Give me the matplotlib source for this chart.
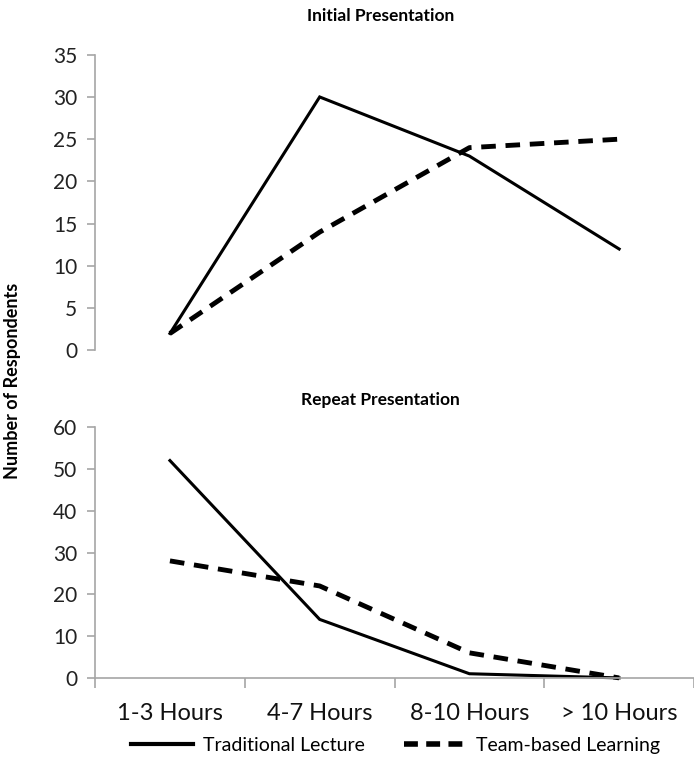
import matplotlib.pyplot as plt
from matplotlib.lines import Line2D

plt.rcParams['font.family'] = ['Lato', 'DejaVu Sans']

categories = ['1-3 Hours', '4-7 Hours', '8-10 Hours', '> 10 Hours']
initial_traditional = [2, 30, 23, 12]
initial_team = [2, 14, 24, 25]
repeat_traditional = [52, 14, 1, 0]
repeat_team = [28, 22, 6, 0]

fig = plt.figure(figsize=(6.94, 7.6), dpi=100)
ax1 = fig.add_axes([0.137, 0.539, 0.863, 0.389])
ax2 = fig.add_axes([0.137, 0.108, 0.863, 0.330])

x = range(len(categories))
grey = '#a6a6a6'

for ax, trad, team, ymax, step in [
        (ax1, initial_traditional, initial_team, 35, 5),
        (ax2, repeat_traditional, repeat_team, 60, 10)]:
    ax.plot(x, trad, color='black', lw=2.2, solid_joinstyle='miter', clip_on=False)
    ax.plot(x, team, color='black', lw=3.5, dashes=(3, 2), clip_on=False)
    ax.set_xlim(-0.5, 3.5)
    ax.set_ylim(0, ymax)
    ax.set_yticks(range(0, ymax + 1, step))
    ax.tick_params(axis='y', labelsize=15, color=grey, length=6, width=1.2,
                   labelcolor='#222222', pad=7)
    for s in ['top', 'right']:
        ax.spines[s].set_visible(False)
    ax.spines['left'].set_color(grey)
    ax.spines['left'].set_linewidth(1.2)
    ax.spines['bottom'].set_color(grey)
    ax.spines['bottom'].set_linewidth(1.2)

ax1.set_title('Initial Presentation', fontsize=12.5, fontweight='bold', pad=24, x=0.477)
ax2.set_title('Repeat Presentation', fontsize=12.5, fontweight='bold', pad=16, x=0.477)

ax1.spines['bottom'].set_visible(False)
ax1.set_xticks([])

ax2.set_xticks([-0.5, 0.5, 1.5, 2.5, 3.5])
ax2.set_xticklabels([])
ax2.set_xticks(list(x), minor=True)
ax2.set_xticklabels(categories, minor=True, fontsize=17)
ax2.tick_params(axis='x', which='major', direction='out', length=7, color=grey, width=1.2)
ax2.tick_params(axis='x', which='minor', length=0, pad=18, labelcolor='#111111')

fig.text(0.018, 0.499, 'Number of Respondents', rotation=90, fontsize=13,
         fontweight='bold', ha='center', va='center')

handles = [Line2D([], [], color='black', lw=3),
           Line2D([], [], color='black', lw=4, dashes=(2.5, 1.5))]
fig.legend(handles, ['Traditional Lecture', 'Team-based Learning'],
           loc='center', bbox_to_anchor=(0.57, 0.019), ncol=2, frameon=False,
           fontsize=14, handlelength=3.2, columnspacing=2.0, handletextpad=0.5)

fig.savefig('out.png', dpi=100)
